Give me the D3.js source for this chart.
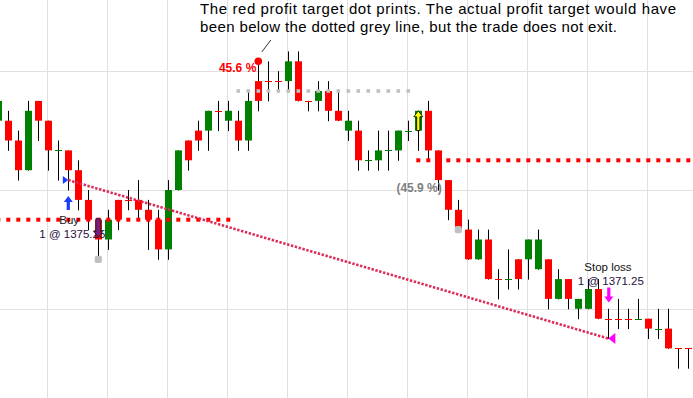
<!DOCTYPE html>
<html>
<head>
<meta charset="utf-8">
<script src="https://cdn.jsdelivr.net/npm/d3@7"></script>
<style>
  html, body { margin: 0; padding: 0; background: #fff; }
  svg { display: block; }
  text { font-family: "Liberation Sans", Arial, sans-serif; }
</style>
</head>
<body>
<svg id="chart" width="693" height="398"></svg>
<script>
// ---- data (bar index -1 .. 68) ----
const firstIndex = -1;
const opens  = [1376.75,1376.75,1376.25,1375.5,1377.25,1376.75,1376.0,1376.0,1375.5,1374.75,1374.25,1373.75,1374.75,1374.75,1374.75,1374.5,1374.25,1373.5,1375.0,1376.25,1376.5,1376.5,1377.0,1376.75,1376.75,1376.25,1377.75,1377.75,1377.75,1377.75,1378.25,1377.25,1377.25,1377.5,1377.0,1376.5,1376.5,1375.75,1375.75,1376.0,1376.0,1376.5,1376.5,1377.0,1376.0,1375.25,1374.5,1374.0,1373.25,1373.75,1372.75,1372.75,1373.25,1373.25,1373.0,1373.25,1372.25,1372.75,1372.0,1372.0,1372.5,1371.75,1371.75,1371.75,1371.75,1371.75,1371.5,1371.5,1371.0,1371.0];
const highs  = [1377.25,1377.0,1376.5,1377.25,1377.25,1376.75,1376.25,1376.0,1375.75,1375.0,1374.25,1374.5,1374.75,1375.0,1375.25,1374.75,1374.5,1375.25,1376.0,1376.25,1376.75,1377.0,1377.25,1377.25,1377.0,1377.5,1378.25,1378.25,1378.0,1378.5,1378.5,1377.25,1377.75,1377.75,1377.5,1377.0,1376.75,1376.0,1376.5,1376.5,1376.5,1376.75,1377.0,1377.25,1376.0,1375.25,1374.75,1374.25,1374.0,1374.0,1373.0,1373.5,1373.25,1373.75,1374.0,1373.25,1373.0,1372.75,1372.25,1372.75,1372.75,1372.0,1372.25,1372.0,1372.25,1371.75,1372.0,1372.0,1371.0,1371.0];
const lows   = [1376.75,1376.0,1375.25,1375.5,1376.25,1375.5,1375.25,1375.0,1374.5,1374.0,1373.25,1373.5,1374.0,1374.5,1374.25,1373.5,1373.25,1373.25,1375.0,1375.5,1376.0,1376.0,1376.5,1376.5,1376.0,1376.0,1377.0,1377.25,1377.5,1377.5,1377.25,1377.0,1377.0,1376.75,1376.75,1376.25,1375.5,1375.5,1375.5,1375.5,1375.75,1376.25,1376.0,1375.75,1375.0,1374.25,1374.0,1373.25,1373.25,1372.75,1372.25,1372.5,1372.5,1372.75,1373.0,1372.0,1372.25,1372.0,1371.75,1372.0,1371.75,1371.25,1371.5,1371.5,1371.75,1371.25,1371.25,1371.0,1370.5,1370.5];
const closes = [1377.25,1376.25,1375.5,1377.0,1376.75,1376.0,1376.0,1375.5,1374.75,1374.25,1373.75,1374.25,1374.25,1374.75,1374.5,1374.25,1373.5,1375.0,1376.0,1375.75,1376.25,1377.0,1377.0,1377.0,1376.25,1377.25,1377.25,1377.75,1377.75,1378.25,1377.25,1377.25,1377.5,1377.0,1376.75,1376.75,1375.75,1375.75,1376.0,1376.0,1376.5,1376.5,1377.0,1376.0,1375.25,1374.5,1374.0,1373.25,1373.75,1372.75,1372.75,1372.75,1372.75,1373.75,1373.75,1372.25,1372.75,1372.25,1372.25,1372.5,1371.75,1371.75,1371.75,1371.75,1371.75,1371.5,1371.5,1371.0,1371.0,1371.0];
const dojiGreen = [5, 36, 38, 40, 50, 63, 65];   // unchanged bars drawn green

const gridPrices = [1372, 1375, 1378];
const gridBars   = [4, 10, 16, 22, 28, 34, 40, 46, 52, 58, 64];

// annotations
const targetDot      = { bar: 25, price: 1378.25, label: "45.6 %" };
const greyTarget     = { from: 23, to: 40, price: 1377.5 };
const redStopLeft    = { from: -1, to: 22, price: 1374.25 };
const redStopRight   = { from: 41, to: 68, price: 1375.75 };
const greyDots       = [ { bar: 9, price: 1373.25 }, { bar: 45, price: 1374.0 } ];
const entry          = { bar: 6, price: 1375.25, label1: "Buy", label2: "1 @ 1375.25" };
const exitTrade      = { bar: 60, price: 1371.25, label1: "Stop loss", label2: "1 @ 1371.25" };
const exitArrowBar   = 9;
const yellowArrowBar = 41;
const greyPctLabel   = { bar: 43, price: 1375.0, label: "(45.9 %)" };
const noteLines = ["The red profit target dot prints. The actual profit target would have",
                   "been below the dotted grey line, but the trade does not exit."];
const noteWidths = [476, 417];

// ---- scales ----
const W = 693, H = 398;
const svg = d3.select("#chart");
const x = d3.scaleLinear().domain([-1, 68]).range([-1.7, 688.3]);
const y = d3.scaleLinear().domain([1370, 1375]).range([388, 190]);
const px = k => Math.round(x(k));

const bars = opens.map((o, i) => ({
  k: firstIndex + i, o, h: highs[i], l: lows[i], c: closes[i]
}));
const colorOf = d => d.c > d.o ? "#008000" : d.c < d.o ? "#ff0000" :
  (dojiGreen.includes(d.k) ? "#008000" : "#ff0000");

// ---- grid ----
const grid = svg.append("g");
grid.selectAll("line.h").data(gridPrices).join("line")
  .attr("x1", 0).attr("x2", W)
  .attr("y1", d => Math.round(y(d)) + 0.5).attr("y2", d => Math.round(y(d)) + 0.5)
  .attr("stroke", "#e0e0e0").attr("stroke-width", 1);
grid.selectAll("line.v").data(gridBars).join("line")
  .attr("y1", 0).attr("y2", H)
  .attr("x1", d => px(d) - 0.5).attr("x2", d => px(d) - 0.5)
  .attr("stroke", "#e0e0e0").attr("stroke-width", 1);

// ---- candles ----
const cg = svg.append("g");
cg.selectAll("line.wick").data(bars).join("line")
  .attr("x1", d => px(d.k) + 0.5).attr("x2", d => px(d.k) + 0.5)
  .attr("y1", d => y(d.h)).attr("y2", d => y(d.l) + 0.5)
  .attr("stroke", "#000").attr("stroke-width", 1);
cg.selectAll("rect.body").data(bars.filter(d => d.o !== d.c)).join("rect")
  .attr("x", d => px(d.k) - 3).attr("width", 7)
  .attr("y", d => y(Math.max(d.o, d.c)))
  .attr("height", d => y(Math.min(d.o, d.c)) - y(Math.max(d.o, d.c)))
  .attr("fill", colorOf);
cg.selectAll("line.doji").data(bars.filter(d => d.o === d.c)).join("line")
  .attr("x1", d => px(d.k) - 3).attr("x2", d => px(d.k) + 4)
  .attr("y1", d => Math.round(y(d.c)) + 0.5).attr("y2", d => Math.round(y(d.c)) + 0.5)
  .attr("stroke", colorOf).attr("stroke-width", 1);

// ---- dotted level lines (square dots at each bar) ----
function dotLine(spec, size, color) {
  const ks = d3.range(spec.from, spec.to + 1);
  svg.append("g").selectAll("rect").data(ks).join("rect")
    .attr("x", k => x(k) - size / 2).attr("y", y(spec.price) - size / 2)
    .attr("width", size).attr("height", size).attr("fill", color);
}
dotLine(greyTarget, 3.6, "#c0c0c0");
dotLine(redStopLeft, 4, "#ff0000");
dotLine(redStopRight, 4, "#ff0000");

// ---- trade line ----
svg.append("line")
  .attr("x1", x(entry.bar)).attr("y1", y(entry.price))
  .attr("x2", x(exitTrade.bar)).attr("y2", y(exitTrade.price))
  .attr("stroke", "#dc2c58").attr("stroke-width", 2.6)
  .attr("stroke-dasharray", "2.4,1.6");

// ---- grey dots ----
svg.append("g").selectAll("rect").data(greyDots).join("rect")
  .attr("x", d => x(d.bar) - 3.6).attr("y", d => y(d.price) - 3.6)
  .attr("width", 7.2).attr("height", 7.2).attr("rx", 2)
  .attr("fill", "#c0c0c0");

// ---- profit target dot ----
svg.append("circle")
  .attr("cx", x(targetDot.bar)).attr("cy", y(targetDot.price)).attr("r", 3.8)
  .attr("fill", "#ff0000");
svg.append("text")
  .attr("x", x(targetDot.bar) - 2).attr("y", y(targetDot.price) + 11)
  .attr("text-anchor", "end").attr("fill", "#ff0000")
  .attr("font-weight", "bold").attr("font-size", 12)
  .text(targetDot.label);
// leader line from note to dot
svg.append("line")
  .attr("x1", x(targetDot.bar) + 12.5).attr("y1", 40)
  .attr("x2", x(targetDot.bar) + 3.5).attr("y2", 52)
  .attr("stroke", "#000").attr("stroke-width", 0.8);

// ---- entry markers ----
const ex = x(entry.bar), ey = y(entry.price);
svg.append("path")
  .attr("d", `M${ex},${ey} L${ex - 5.5},${ey - 4} L${ex - 5.5},${ey + 4} Z`)
  .attr("fill", "#1a3cff");
function upArrow(cx, top, bottom, color, stroke) {
  const hw = 4.5, sw = 1.6, headH = 6;
  return svg.append("path")
    .attr("d", `M${cx},${top} L${cx + hw},${top + headH} L${cx + sw},${top + headH} L${cx + sw},${bottom} L${cx - sw},${bottom} L${cx - sw},${top + headH} L${cx - hw},${top + headH} Z`)
    .attr("fill", color).attr("stroke", stroke || "none").attr("stroke-width", 0.8);
}
function downArrow(cx, top, bottom, color, stroke, sw) {
  const hw = 4.5, headH = 6; sw = sw || 1.6;
  return svg.append("path")
    .attr("d", `M${cx},${bottom} L${cx + hw},${bottom - headH} L${cx + sw},${bottom - headH} L${cx + sw},${top} L${cx - sw},${top} L${cx - sw},${bottom - headH} L${cx - hw},${bottom - headH} Z`)
    .attr("fill", color).attr("stroke", stroke || "none").attr("stroke-width", 0.8);
}
upArrow(ex, ey + 16, ey + 30, "#1a3cff");
svg.append("text").attr("x", ex - 9).attr("y", ey + 44)
  .attr("font-size", 11.5).attr("fill", "#111").text(entry.label1);
svg.append("text").attr("x", ex - 29).attr("y", ey + 57.5)
  .attr("font-size", 11.5).attr("fill", "#2a1040").text(entry.label2);

// purple exit arrow on bar 9
downArrow(x(exitArrowBar), y(1374.25) - 1, y(1373.75) - 2, "#7b1c7b", "#222", 2.4);

// yellow arrow on bar 41
upArrow(x(yellowArrowBar), y(1377.0), y(1376.5), "#ffff00", "#000");

// grey percentage label
svg.append("text")
  .attr("x", x(greyPctLabel.bar) + 3.5).attr("y", y(greyPctLabel.price) + 1.5)
  .attr("text-anchor", "end").attr("fill", "#808080")
  .attr("font-weight", "bold").attr("font-size", 12)
  .text(greyPctLabel.label);

// ---- stop loss markers ----
const sx = x(exitTrade.bar), sy = y(exitTrade.price);
downArrow(sx + 0.5, sy - 51, sy - 36, "#ff00ff", "none", 1.6);
svg.append("path")
  .attr("d", `M${sx},${sy} L${sx + 7},${sy - 5.5} L${sx + 7},${sy + 5.5} Z`)
  .attr("fill", "#ff00ff");
svg.append("text").attr("x", sx - 24).attr("y", sy - 67.5)
  .attr("font-size", 11.5).attr("fill", "#111").text(exitTrade.label1);
svg.append("text").attr("x", sx - 30.5).attr("y", sy - 54)
  .attr("font-size", 11.5).attr("fill", "#2a1040").text(exitTrade.label2);

// ---- note ----
svg.append("g").selectAll("text").data(noteLines).join("text")
  .attr("x", 200).attr("y", (d, i) => 13.5 + i * 18.3)
  .attr("font-size", 15).attr("fill", "#000")
  .attr("textLength", (d, i) => noteWidths[i]).attr("lengthAdjust", "spacing")
  .text(d => d);
</script>
</body>
</html>
